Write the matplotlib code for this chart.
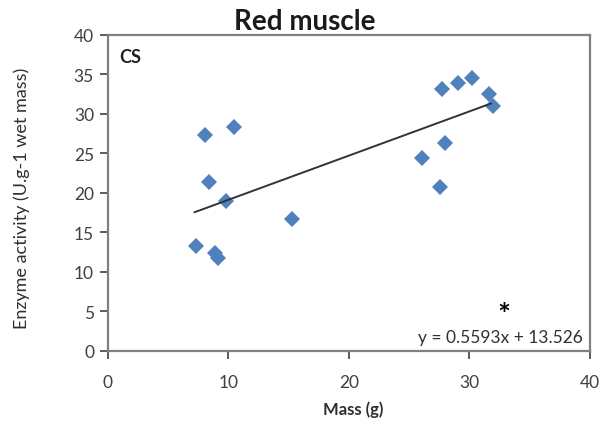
import matplotlib.pyplot as plt
import numpy as np

# Datos (masa en g, actividad CS)
masa = [7.3, 8.05, 8.4, 8.9, 9.15, 9.8, 10.5, 15.3,
        26.1, 27.6, 27.7, 28.0, 29.1, 30.2, 31.6, 32.0]
actividad = [13.3, 27.3, 21.35, 12.4, 11.7, 19.0, 28.3, 16.7,
             24.4, 20.7, 33.1, 26.3, 33.9, 34.6, 32.5, 31.0]
pendiente = 0.5593
intercepto = 13.526
x_ticks = [0, 10, 20, 30, 40]
y_ticks = [0, 5, 10, 15, 20, 25, 30, 35, 40]

plt.rcParams['font.family'] = ['Lato', 'DejaVu Sans']

fig = plt.figure(figsize=(6.03, 4.27), dpi=100)
ax = fig.add_axes([0.179, 0.176, 0.799, 0.740])

ax.plot(masa, actividad, 'D', color='#4F81BD', markersize=8, markeredgewidth=0)

# linea de tendencia
xl = np.array([min(masa) - 0.1, max(masa) - 0.2])
ax.plot(xl, pendiente * xl + intercepto, color='#333333', linewidth=1.4)

ax.set_xlim(0, 40)
ax.set_ylim(0, 40)
ax.set_xticks(x_ticks)
ax.set_yticks(y_ticks)
ax.tick_params(labelsize=12.5, colors='#404040', length=6, width=1.2, direction='out')
ax.tick_params(axis='x', pad=11)
ax.tick_params(axis='y', pad=4)
for s in ax.spines.values():
    s.set_color('#808080')
    s.set_linewidth(1.6)

# titulo y etiquetas
fig.text(305 / 603, 1 - 22 / 427, 'Red muscle', fontsize=20, fontweight='bold',
         ha='center', va='center', color='#1a1a1a')
fig.text(353 / 603, 1 - 410 / 427, 'Mass (g)', fontsize=12, fontweight='bold',
         ha='center', va='center', color='#303030')
fig.text(22 / 603, 1 - 198 / 427, 'Enzyme activity (U.g-1 wet mass)', fontsize=13,
         rotation=90, ha='center', va='center', color='#303030')

ax.text(0.9, 37.3, 'CS', fontsize=13, fontweight='bold', va='center', color='#202020')
ax.text(32.9, 4.6, '*', fontsize=22, fontweight='bold', ha='center', va='center', color='black')
ax.text(39.4, 1.8, 'y = 0.5593x + 13.526', fontsize=12.5, ha='right', va='center', color='#303030')

fig.savefig('out.png', dpi=100)
